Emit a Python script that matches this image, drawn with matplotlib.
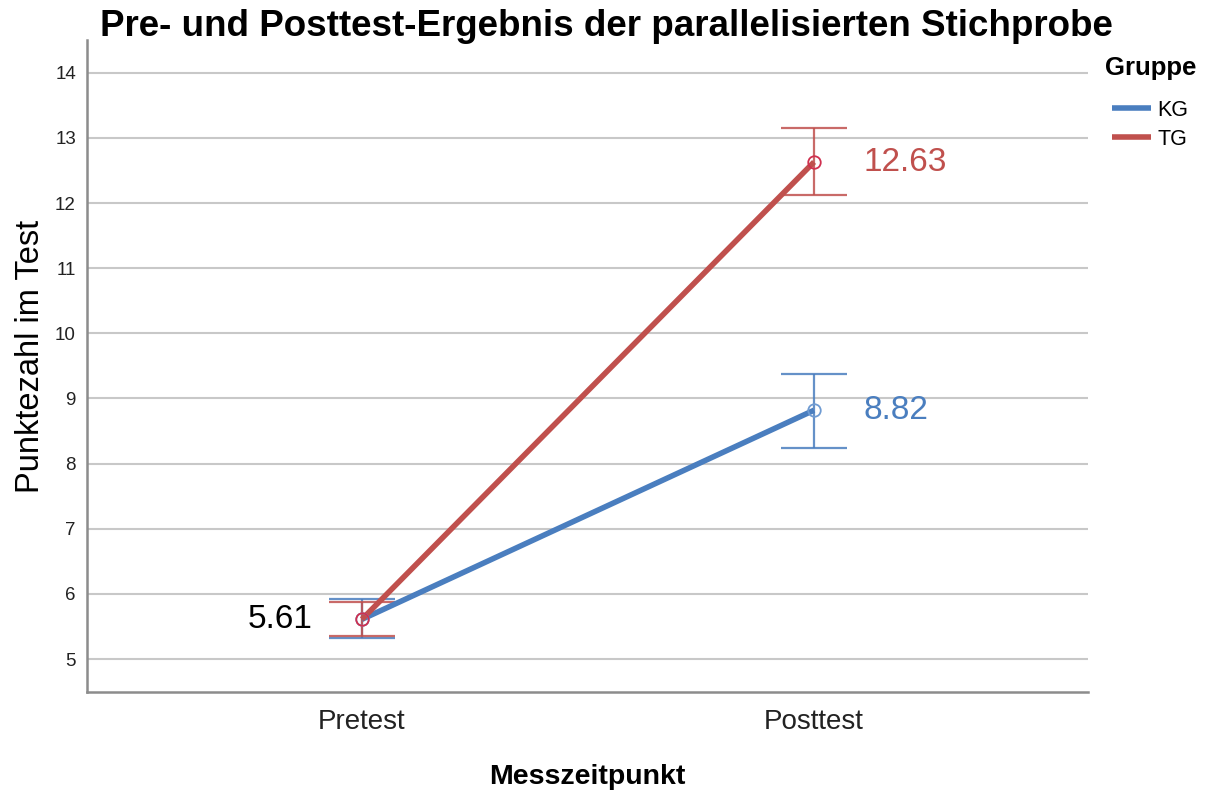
import matplotlib
matplotlib.use("Agg")
import matplotlib.pyplot as plt

plt.rcParams['font.family'] = ['Liberation Sans', 'DejaVu Sans']

# Data
zeitpunkte = ["Pretest", "Posttest"]
gruppen = ["KG", "TG"]
kg_mean = [5.61, 8.82]
kg_lower = [5.33, 8.24]
kg_upper = [5.92, 9.38]
tg_mean = [5.61, 12.63]
tg_lower = [5.35, 12.13]
tg_upper = [5.88, 13.15]
y_ticks = [5, 6, 7, 8, 9, 10, 11, 12, 13, 14]

blue = '#4a7ebf'
red = '#c0504d'

fig = plt.figure(figsize=(12.12, 7.91), dpi=100)
ax = fig.add_axes([0.0718, 0.1252, 0.8259, 0.824])

x = list(range(len(zeitpunkte)))

series = [
    (gruppen[0], kg_mean, kg_lower, kg_upper, blue, '#6f9bd2'),
    (gruppen[1], tg_mean, tg_lower, tg_upper, red, '#d0304f'),
]
for name, m, lo, hi, col, mcol in series:
    yerr = [[mi - l for mi, l in zip(m, lo)], [h - mi for mi, h in zip(m, hi)]]
    ax.errorbar(x, m, yerr=yerr, fmt='none', ecolor=col, elinewidth=1.6,
                capsize=23.5, capthick=1.6, alpha=0.85, zorder=3)
    ax.plot(x, m, color=col, lw=4, solid_capstyle='butt', label=name, zorder=4)
    ax.plot(x, m, 'o', ms=9, mfc='none', mec=mcol, mew=1.3, zorder=5)

# Value labels
ax.text(x[0] - 0.11, kg_mean[0], f"{kg_mean[0]:.2f}", color='black',
        fontsize=24, ha='right', va='center')
ax.text(x[1] + 0.11, kg_mean[1], f"{kg_mean[1]:.2f}", color=blue,
        fontsize=24, ha='left', va='center')
ax.text(x[1] + 0.11, tg_mean[1], f"{tg_mean[1]:.2f}", color=red,
        fontsize=24, ha='left', va='center')

ax.set_xlim(-0.608, 1.606)
ax.set_ylim(4.495, 14.5)
ax.set_xticks(x)
ax.set_xticklabels(zeitpunkte, fontsize=20, color='#222222')
ax.set_yticks(y_ticks)
ax.set_yticklabels([str(t) for t in y_ticks], fontsize=13.5, color='#222222')
ax.tick_params(axis='x', length=0, pad=12)
ax.tick_params(axis='y', length=0, pad=8)

ax.grid(axis='y', color='#c8c8c8', lw=1.5)
ax.set_axisbelow(True)
for s in ['top', 'right']:
    ax.spines[s].set_visible(False)
for s in ['left', 'bottom']:
    ax.spines[s].set_color('#8c8c8c')
    ax.spines[s].set_linewidth(1.8)

ax.set_ylabel("Punktezahl im Test", fontsize=23.5)
ax.yaxis.set_label_coords(-0.041, 0.515)
ax.set_xlabel("Messzeitpunkt", fontsize=20.5, fontweight='bold', labelpad=21)
fig.text(0.5, 0.967, "Pre- und Posttest-Ergebnis der parallelisierten Stichprobe",
         ha='center', va='center', fontsize=26.5, fontweight='bold')

# Legend
fig.text(1105 / 1212, 1 - 68 / 791, "Gruppe", ha='left', va='center',
         fontsize=18.5, fontweight='bold')
leg = ax.legend(loc='upper left', bbox_to_anchor=(1112 / 1212, 1 - 100 / 791),
                bbox_transform=fig.transFigure, frameon=False, borderpad=0,
                borderaxespad=0, fontsize=15.5, handlelength=1.8,
                handletextpad=0.3, labelspacing=0.35)
for h in leg.legend_handles:
    h.set_linewidth(4)

fig.savefig("out.png", dpi=100)
